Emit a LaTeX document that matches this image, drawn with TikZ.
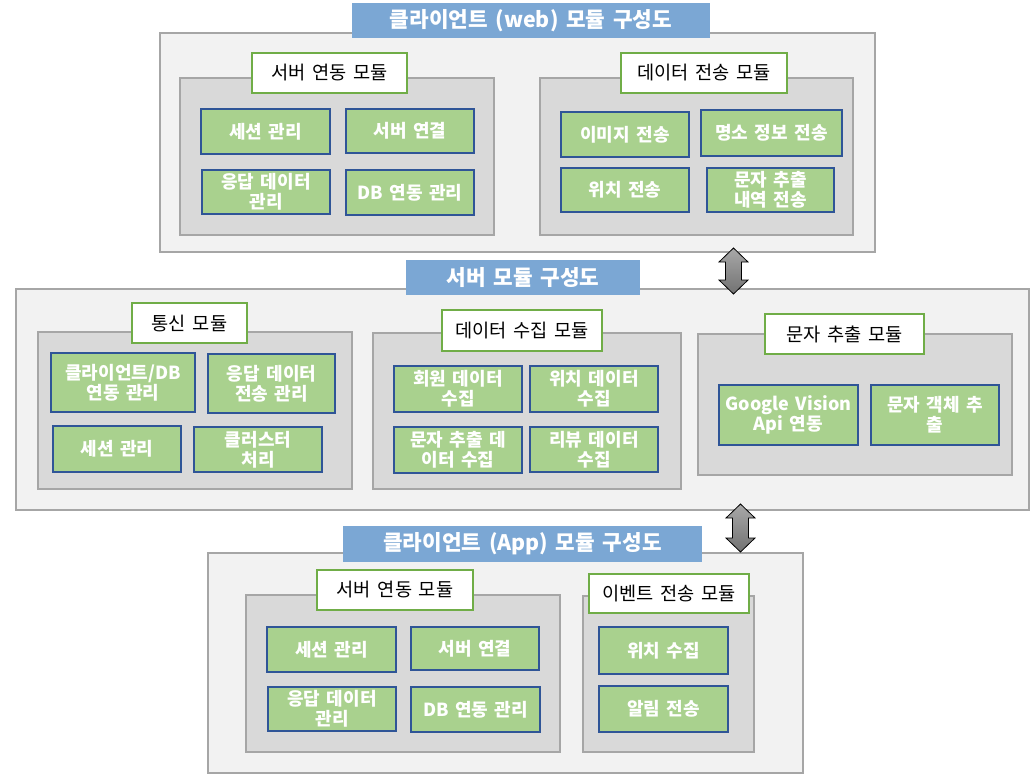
\documentclass[tikz,border=0pt]{standalone}
\usepackage{fontspec}
\setmainfont{Noto Sans CJK KR}
\definecolor{outerfill}{HTML}{F2F2F2}
\definecolor{boxline}{HTML}{A6A6A6}
\definecolor{groupfill}{HTML}{D9D9D9}
\definecolor{labelline}{HTML}{70AD47}
\definecolor{itemfill}{HTML}{A9D18E}
\definecolor{itemline}{HTML}{2F5597}
\definecolor{titlefill}{HTML}{7BA7D4}
\definecolor{arrowtop}{HTML}{A8A8A8}
\definecolor{arrowbot}{HTML}{727272}
\newcommand\widesp{\spaceskip=0.36em\relax}
\tikzset{
  base/.style={inner sep=0pt, outer sep=0pt, align=center, execute at begin node=\widesp},
  outerbox/.style={base, draw=boxline, fill=outerfill, line width=0.9pt},
  groupbox/.style={base, draw=boxline, fill=groupfill, line width=0.9pt},
  titlebox/.style={base, fill=titlefill, text=white, font=\bfseries\fontsize{16}{19}\selectfont},
  labelbox/.style={base, draw=labelline, fill=white, line width=0.9pt, text=black, font=\fontsize{14}{16}\selectfont},
  itembox/.style={base, draw=itemline, fill=itemfill, line width=0.9pt, text=white, font=\bfseries\fontsize{13.5}{15.2}\selectfont},
  blockarrow/.style={draw=black, line width=0.6pt, top color=arrowtop, bottom color=arrowbot},
}
\newcommand\bx[7]{\node[#1, minimum width={(#5-#3)*0.75pt}, minimum height={(#6-#4)*0.75pt}] (#2) at ({(#3+#5)/2},{(#4+#6)/2}) {#7};}
\newcommand\darrow[3]{% cx, top, bottom
  \path[blockarrow] (#1,#2) -- (#1+14.5,#2+14) -- (#1+8,#2+14) -- (#1+8,#3-14) -- (#1+14.5,#3-14)
    -- (#1,#3) -- (#1-14.5,#3-14) -- (#1-8,#3-14) -- (#1-8,#2+14) -- (#1-14.5,#2+14) -- cycle;}
\begin{document}
\begin{tikzpicture}[x=0.75pt,y=-0.75pt]
\useasboundingbox (0,0) rectangle (1035,779);
\fill[white] (0,0) rectangle (1035,779);

% ---------- client (web) ----------
\bx{outerbox}{webouter}{160}{33}{875}{252}{}
\bx{titlebox}{webtitle}{352}{3}{710}{38}{클라이언트 (web) 모듈 구성도}
\bx{groupbox}{wg1}{180}{78}{494}{235}{}
\bx{labelbox}{wl1}{252}{53}{407}{93}{서버 연동 모듈}
\bx{itembox}{w11}{201}{109}{330}{154}{세션 관리}
\bx{itembox}{w12}{346}{109}{474}{153}{서버 연결}
\bx{itembox}{w13}{202}{170}{330}{214}{응답 데이터\\관리}
\bx{itembox}{w14}{346}{170}{474}{215}{DB 연동 관리}
\bx{groupbox}{wg2}{540}{78}{853}{235}{}
\bx{labelbox}{wl2}{621}{53}{787}{93}{데이터 전송 모듈}
\bx{itembox}{w21}{561}{112}{689}{157}{이미지 전송}
\bx{itembox}{w22}{701}{110}{842}{156}{명소 정보 전송}
\bx{itembox}{w23}{561}{168}{689}{212}{위치 전송}
\bx{itembox}{w24}{707}{168}{834}{212}{문자 추출\\내역 전송}

% ---------- server ----------
\bx{outerbox}{srvouter}{16}{289}{1029}{510}{}
\bx{titlebox}{srvtitle}{406}{260}{640}{295}{서버 모듈 구성도}
\bx{groupbox}{sg1}{38}{332}{352}{489}{}
\bx{labelbox}{sl1}{132}{303}{247}{343}{통신 모듈}
\bx{itembox}{s11}{51}{353}{195}{412}{클라이언트/DB\\연동 관리}
\bx{itembox}{s12}{208}{354}{335}{413}{응답 데이터\\전송 관리}
\bx{itembox}{s13}{53}{426}{181}{472}{세션 관리}
\bx{itembox}{s14}{194}{427}{322}{472}{클러스터\\처리}
\bx{groupbox}{sg2}{373}{333}{681}{489}{}
\bx{labelbox}{sl2}{442}{310}{602}{351}{데이터 수집 모듈}
\bx{itembox}{s21}{394}{366}{522}{412}{회원 데이터\\수집}
\bx{itembox}{s22}{530}{366}{658}{412}{위치 데이터\\수집}
\bx{itembox}{s23}{394}{427}{522}{473}{문자 추출 데\\이터 수집}
\bx{itembox}{s24}{530}{427}{658}{472}{리뷰 데이터\\수집}
\bx{groupbox}{sg3}{698}{334}{1012}{475}{}
\bx{labelbox}{sl3}{765}{314}{924}{354}{문자 추출 모듈}
\bx{itembox}{s31}{719}{385}{858}{445}{Google Vision\\Api 연동}
\bx{itembox}{s32}{871}{385}{999}{445}{문자 객체 추\\출}

% ---------- client (App) ----------
\bx{outerbox}{appouter}{208}{553}{803}{773}{}
\bx{titlebox}{apptitle}{343}{526}{702}{562}{클라이언트 (App) 모듈 구성도}
\bx{groupbox}{ag1}{246}{595}{560}{752}{}
\bx{labelbox}{al1}{317}{570}{473}{610}{서버 연동 모듈}
\bx{itembox}{a11}{267}{627}{396}{672}{세션 관리}
\bx{itembox}{a12}{411}{627}{539}{670}{서버 연결}
\bx{itembox}{a13}{268}{687}{396}{731}{응답 데이터\\관리}
\bx{itembox}{a14}{411}{687}{540}{732}{DB 연동 관리}
\bx{groupbox}{ag2}{583}{596}{754}{752}{}
\bx{labelbox}{al2}{589}{574}{749}{613}{이벤트 전송 모듈}
\bx{itembox}{a21}{599}{627}{728}{674}{위치 수집}
\bx{itembox}{a22}{599}{686}{728}{732}{알림 전송}

% ---------- double arrows ----------
\darrow{733.5}{248}{294}
\darrow{740.5}{504}{552}
\end{tikzpicture}
\end{document}
